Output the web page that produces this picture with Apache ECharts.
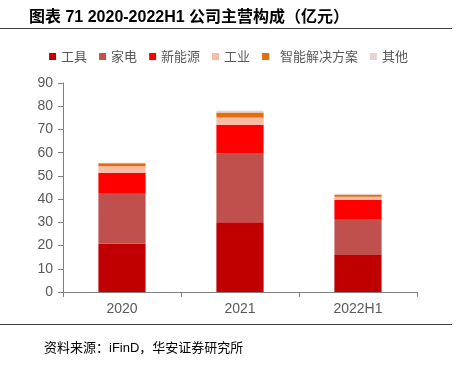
<!DOCTYPE html>
<html>
<head>
<meta charset="utf-8">
<script src="https://cdn.jsdelivr.net/npm/echarts@6/dist/echarts.min.js"></script>
<style>
  html, body { margin: 0; padding: 0; background: #fff; }
  #chart { width: 457px; height: 375px; }
</style>
</head>
<body>
<div id="chart"></div>
<script>
// 数据（亿元）
const categories = ['2020', '2021', '2022H1'];
const tools = [20.8, 30.0, 15.9];
const appliance = [21.8, 29.7, 15.2];
const newEnergy = [8.8, 12.3, 8.6];
const industry = [2.7, 3.1, 1.3];
const smartSolution = [1.3, 2.2, 0.9];
const others = [0.3, 0.8, 0.4];
const yTicks = [0, 10, 20, 30, 40, 50, 60, 70, 80, 90];

const names = ['工具', '家电', '新能源', '工业', '智能解决方案', '其他'];
const colors = ['#C00000', '#C0504D', '#FF0000', '#F8BBA6', '#E46C0A', '#E8D3D3'];
const values = [tools, appliance, newEnergy, industry, smartSolution, others];

const chart = echarts.init(document.getElementById('chart'));

const option = {
  animation: false,
  title: [
    {
      text: '图表 71 2020-2022H1 公司主营构成（亿元）',
      left: 24,
      top: 5,
      textStyle: {
        fontFamily: 'Liberation Sans, Noto Sans CJK SC',
        fontSize: 16,
        fontWeight: 'bold',
        color: '#000'
      }
    },
    {
      text: '资料来源：iFinD，华安证券研究所',
      left: 39,
      top: 337,
      textStyle: {
        fontFamily: 'Liberation Sans, Noto Sans CJK SC',
        fontSize: 13,
        fontWeight: 'normal',
        color: '#000'
      }
    }
  ],
  graphic: [
    { type: 'line', shape: { x1: 0, y1: 28.5, x2: 452, y2: 28.5 }, style: { stroke: '#404040', lineWidth: 1 } },
    { type: 'line', shape: { x1: 0, y1: 324.5, x2: 452, y2: 324.5 }, style: { stroke: '#404040', lineWidth: 1 } }
  ],
  legend: {
    top: 45,
    left: 'center',
    itemWidth: 7,
    itemHeight: 7,
    itemGap: 12,
    icon: 'rect',
    formatter: n => n === '智能解决方案' ? '  ' + n : n,
    textStyle: { fontSize: 13, color: '#595959', fontFamily: 'Noto Sans CJK SC' },
    data: names
  },
  grid: { left: 63, right: 40, top: 83, bottom: 83 },
  xAxis: {
    type: 'category',
    data: categories,
    axisLine: { lineStyle: { color: '#808080' } },
    axisTick: { show: true, alignWithLabel: false, lineStyle: { color: '#808080' } },
    axisLabel: { fontSize: 14, color: '#595959', margin: 10, fontFamily: 'Liberation Sans' }
  },
  yAxis: {
    type: 'value',
    min: yTicks[0],
    max: yTicks[yTicks.length - 1],
    interval: 10,
    axisLine: { show: true, lineStyle: { color: '#808080' } },
    axisTick: { show: true, lineStyle: { color: '#808080' } },
    splitLine: { show: false },
    axisLabel: { fontSize: 14, color: '#595959', margin: 10, fontFamily: 'Liberation Sans' }
  },
  series: names.map((n, i) => ({
    name: n,
    type: 'bar',
    stack: 'total',
    barWidth: '40%',
    data: values[i],
    itemStyle: { color: colors[i] }
  }))
};

chart.setOption(option);
</script>
</body>
</html>
